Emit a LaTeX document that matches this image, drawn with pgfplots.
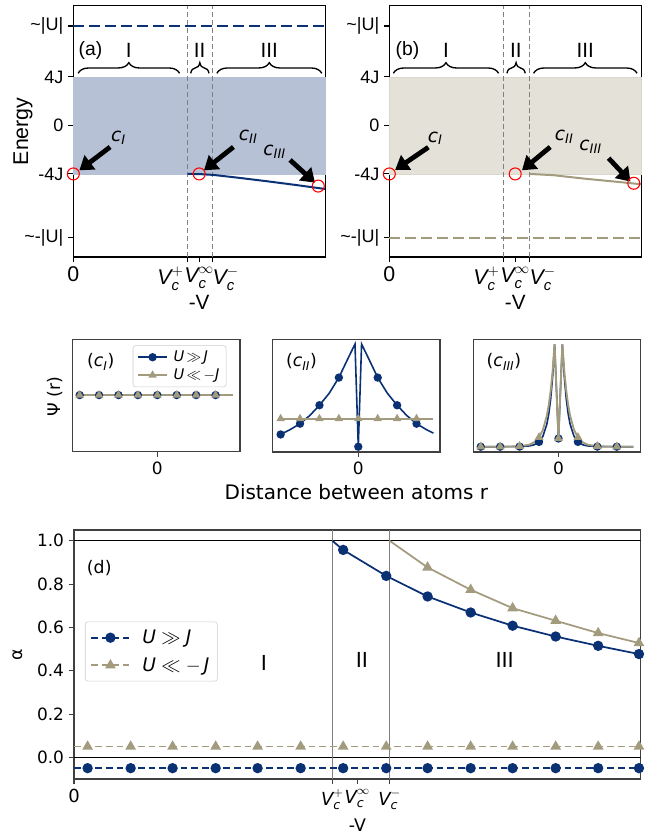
\documentclass[border=0pt]{standalone}
\usepackage{amsmath}
\usepackage{fontspec}
\setmainfont{DejaVu Sans}
\newfontfamily\arialf{Liberation Sans}
\usepackage{pgfplots}
\pgfplotsset{compat=1.18}
\usetikzlibrary{arrows.meta,decorations.pathreplacing}
\definecolor{navy}{HTML}{0B3175}
\definecolor{khaki}{HTML}{A39B7E}
\definecolor{fillA}{HTML}{B6C1D6}
\definecolor{fillB}{HTML}{E3E1D8}
\definecolor{vgray}{HTML}{808080}

\newcommand{\Vp}{$\textit{V}_{\textit{c}}^{+}$}
\newcommand{\Vi}{$\textit{V}_{\textit{c}}^{\infty}$}
\newcommand{\Vm}{$\textit{V}_{\textit{c}}^{-}$}
\newcommand{\cI}{\textit{c}\textsubscript{\textit{I}}}
\newcommand{\cII}{\textit{c}\textsubscript{\textit{II}}}
\newcommand{\cIII}{\textit{c}\textsubscript{\textit{III}}}

\tikzset{
  bigarrow/.style={line width=3.6pt, -{Triangle[length=10pt,width=13pt]}},
  clab/.style={font=\fontsize{14}{16}\selectfont},
  brlab/.style={font=\arialf\fontsize{15.5}{17}\selectfont},
  brace/.style={decorate, decoration={brace, amplitude=8pt}, line width=1pt},
}
\pgfplotsset{
  topax/.style={
    scale only axis, width=188.8pt, height=188.5pt,
    xmin=0, xmax=10, ymin=-10.85, ymax=9.88,
    axis line style={black,line width=0.8pt},
    tick align=outside, xtick pos=bottom, ytick pos=left,
    major tick length=4pt, every tick/.style={black,line width=0.8pt},
    yticklabels={\textasciitilde-|U|,-4J,0,4J,\textasciitilde|U|},
    ytick={-9.28,-4,0,4,8.2},
    yticklabel style={font=\arialf\fontsize{13.5}{15}\selectfont},
    xticklabel style={font=\arialf\fontsize{16}{18}\selectfont},
    xlabel={-V},
    xlabel style={font=\arialf\fontsize{15.5}{17}\selectfont, yshift=3pt},
    clip=false,
  },
  midax/.style={
    scale only axis, width=125.5pt, height=84.3pt,
    ymin=0, ymax=1, xtick={0}, xticklabels={0}, ytick=\empty,
    tick align=outside, xtick pos=bottom,
    major tick length=4pt,
    axis line style={black!75,line width=0.8pt},
    every tick/.style={black!75,line width=0.8pt},
    ticklabel style={font=\fontsize{12.7}{14}\selectfont},
  },
}

\begin{document}
\begin{tikzpicture}
\useasboundingbox (0,0) rectangle (492.75pt,628.5pt);

% ---------------- (a) ----------------
\begin{axis}[topax, at={(55.0pt,435.75pt)}, anchor=south west,
  xtick={0,4.54,5.0,5.53},
  xticklabels={0,\makebox[0pt][r]{\Vp\hspace{3pt}},\Vi,\makebox[0pt][l]{\Vm}},
  ylabel={Energy},
  ylabel style={font=\arialf\fontsize{16}{18}\selectfont, at={(axis description cs:-0.2,0.5)}, anchor=center}]
\addplot[fill=fillA, draw=navy!30, line width=0.6pt] coordinates {(0,-4)(10,-4)(10,4)(0,4)} --cycle;
\addplot[navy, line width=1.6pt, dash pattern=on 8pt off 4pt] coordinates {(0,8.2)(10,8.2)};
\addplot[vgray, line width=1.1pt, dash pattern=on 4pt off 2pt] coordinates {(4.54,-10.85)(4.54,9.88)};
\addplot[vgray, line width=1.1pt, dash pattern=on 4pt off 2pt] coordinates {(5.53,-10.85)(5.53,9.88)};
\addplot[navy, line width=1.5pt] coordinates {(4.54,-4)(5.0,-4.01)(5.56,-4.08)(6.5,-4.3)(7.68,-4.6)(8.8,-4.9)(10,-5.24)};
\addplot[only marks, mark=o, mark size=4.5pt, red, mark options={line width=0.8pt}] coordinates {(0,-4)(5.0,-4)(9.73,-5.0)};
\draw[bigarrow] (axis cs:1.46,-1.78) -- (axis cs:0.24,-3.7);
\draw[bigarrow] (axis cs:6.36,-1.78) -- (axis cs:5.19,-3.7);
\draw[bigarrow] (axis cs:8.61,-2.85) -- (axis cs:9.6,-4.72);
\node[clab] at (axis cs:1.79,-1.05) {\cI};
\node[clab] at (axis cs:6.95,-0.92) {\cII};
\node[clab] at (axis cs:8.0,-2.16) {\cIII};
\draw[brace] (axis cs:0.19,4.3) -- (axis cs:4.22,4.3);
\draw[brace] (axis cs:4.66,4.3) -- (axis cs:5.39,4.3);
\draw[brace] (axis cs:5.7,4.3) -- (axis cs:9.87,4.3);
\node[brlab] at (axis cs:2.2,6.2) {I};
\node[brlab] at (axis cs:5.02,6.2) {II};
\node[brlab] at (axis cs:7.78,6.2) {III};
\node[font=\arialf\fontsize{14.5}{16}\selectfont] at (axis cs:0.68,6.2) {(a)};
\end{axis}

% ---------------- (b) ----------------
\begin{axis}[topax, at={(292.0pt,435.75pt)}, anchor=south west,
  xtick={0,4.54,5.0,5.57},
  xticklabels={0,\makebox[0pt][r]{\Vp\hspace{3pt}},\Vi,\makebox[0pt][l]{\Vm}}]
\addplot[fill=fillB, draw=khaki!40, line width=0.6pt] coordinates {(0,-4)(10,-4)(10,4)(0,4)} --cycle;
\addplot[khaki, line width=1.6pt, dash pattern=on 8pt off 4pt] coordinates {(0,-9.28)(10,-9.28)};
\addplot[vgray, line width=1.1pt, dash pattern=on 4pt off 2pt] coordinates {(4.54,-10.85)(4.54,9.88)};
\addplot[vgray, line width=1.1pt, dash pattern=on 4pt off 2pt] coordinates {(5.57,-10.85)(5.57,9.88)};
\addplot[khaki, line width=1.5pt] coordinates {(5.57,-4)(6.5,-4.1)(7.85,-4.41)(9,-4.64)(10,-4.85)};
\addplot[only marks, mark=o, mark size=4.5pt, red, mark options={line width=0.8pt}] coordinates {(0,-4)(5.0,-4)(9.71,-4.77)};
\draw[bigarrow] (axis cs:1.55,-1.8) -- (axis cs:0.23,-3.67);
\draw[bigarrow] (axis cs:6.39,-1.78) -- (axis cs:5.27,-3.7);
\draw[bigarrow] (axis cs:8.71,-2.7) -- (axis cs:9.58,-4.63);
\node[clab] at (axis cs:1.82,-1.06) {\cI};
\node[clab] at (axis cs:6.95,-0.92) {\cII};
\node[clab] at (axis cs:8.0,-1.75) {\cIII};
\draw[brace] (axis cs:0.16,4.3) -- (axis cs:4.34,4.3);
\draw[brace] (axis cs:4.67,4.3) -- (axis cs:5.4,4.3);
\draw[brace] (axis cs:5.73,4.3) -- (axis cs:9.84,4.3);
\node[brlab] at (axis cs:2.25,6.2) {I};
\node[brlab] at (axis cs:5.03,6.2) {II};
\node[brlab] at (axis cs:7.78,6.2) {III};
\node[font=\arialf\fontsize{14.5}{16}\selectfont] at (axis cs:0.72,6.2) {(b)};
\end{axis}

% ---------------- (c_I) ----------------
\begin{axis}[midax, at={(54.5pt,289.7pt)}, anchor=south west, xmin=-4.36, xmax=4.26,
  ylabel={Ψ (r)},
  ylabel style={font=\fontsize{13}{15}\selectfont, at={(axis description cs:-0.106,0.49)}, anchor=center},
  legend style={at={(0.359,0.947)}, anchor=north west, draw=black!20, rounded corners=2pt,
    font=\fontsize{11}{12}\selectfont, inner xsep=3pt, inner ysep=2pt, row sep=0pt, cells={anchor=west}},
  legend image code/.code={\draw[mark repeat=2,mark phase=2,#1] plot coordinates {(0cm,0cm)(0.39cm,0cm)(0.78cm,0cm)};}]
\addplot[navy, line width=1.2pt, mark=*, mark size=2.5pt, mark indices={1,2,3,4,5,6,7,8}, forget plot]
  coordinates {(-4,0.504)(-3,0.504)(-2,0.504)(-1,0.504)(0,0.504)(1,0.504)(2,0.504)(3,0.504)(3.9,0.504)};
\addplot[khaki, line width=1.2pt, mark=triangle*, mark size=2.5pt, mark indices={1,2,3,4,5,6,7,8}, forget plot]
  coordinates {(-4,0.504)(-3,0.504)(-2,0.504)(-1,0.504)(0,0.504)(1,0.504)(2,0.504)(3,0.504)(3.9,0.504)};
\addlegendimage{navy, line width=1.2pt, mark=*, mark size=2.5pt}
\addlegendentry{\hspace*{2pt}$\textit{U}\,{\gg}\,\textit{J}$}
\addlegendimage{khaki, line width=1.2pt, mark=triangle*, mark size=2.5pt}
\addlegendentry{\hspace*{2pt}$\textit{U}\,{\ll}\,{-}\textit{J}$}
\node[font=\fontsize{13}{15}\selectfont] at (axis description cs:0.168,0.80) {(\cI)};
\end{axis}

% ---------------- (c_II) ----------------
\begin{axis}[midax, at={(204.5pt,289.5pt)}, anchor=south west, xmin=-4.41, xmax=4.21,
  xlabel={Distance between atoms r},
  xlabel style={font=\fontsize{15}{17}\selectfont}]
\addplot[navy, line width=1.2pt, mark=*, mark size=2.5pt, mark indices={1,3,5,7,10,13,15,17}]
  coordinates {(-4,0.156)(-3.5,0.20)(-3,0.252)(-2.5,0.324)(-2,0.416)(-1.5,0.522)(-1,0.662)(-0.5,0.843)(-0.17,0.96)(0,0.047)(0.17,0.96)(0.5,0.843)(1,0.662)(1.5,0.522)(2,0.416)(2.5,0.324)(3,0.252)(3.5,0.20)(3.87,0.168)};
\addplot[khaki, line width=1.2pt, mark=triangle*, mark size=2.5pt, mark indices={1,2,3,4,5,6,7,8}]
  coordinates {(-4,0.296)(-3,0.296)(-2,0.296)(-1,0.296)(0,0.296)(1,0.296)(2,0.296)(3,0.296)(3.87,0.296)};
\node[font=\fontsize{13}{15}\selectfont] at (axis description cs:0.172,0.80) {(\cII)};
\end{axis}

% ---------------- (c_III) ----------------
\begin{axis}[midax, at={(355.0pt,289.5pt)}, anchor=south west, xmin=-4.38, xmax=4.23]
\addplot[navy, line width=1.2pt, mark=*, mark size=2.5pt, mark indices={1,2,3,6,13,20,23,24}]
  coordinates {(-4,0.047)(-3,0.047)(-2,0.048)(-1.5,0.054)(-1.25,0.064)(-1,0.090)(-0.8,0.140)(-0.6,0.246)(-0.5,0.338)(-0.4,0.473)(-0.3,0.669)(-0.2,0.96)(0,0.12)(0.2,0.96)(0.3,0.669)(0.4,0.473)(0.5,0.338)(0.6,0.246)(0.8,0.140)(1,0.090)(1.25,0.064)(1.5,0.054)(2,0.048)(3,0.047)(3.85,0.047)};
\addplot[khaki, line width=1.4pt, mark=triangle*, mark size=2.5pt, mark indices={1,2,3,6,13,20,23,24}]
  coordinates {(-4,0.047)(-3,0.047)(-2,0.051)(-1.5,0.065)(-1.25,0.086)(-1,0.130)(-0.8,0.197)(-0.6,0.321)(-0.5,0.417)(-0.4,0.547)(-0.3,0.721)(-0.2,0.96)(0,0.12)(0.2,0.96)(0.3,0.721)(0.4,0.547)(0.5,0.417)(0.6,0.321)(0.8,0.197)(1,0.130)(1.25,0.086)(1.5,0.065)(2,0.051)(3,0.047)(3.85,0.047)};
\node[font=\fontsize{13}{15}\selectfont] at (axis description cs:0.183,0.80) {(\cIII)};
\end{axis}

% ---------------- (d) ----------------
\begin{axis}[scale only axis, width=425pt, height=186.75pt, at={(55.5pt,44.25pt)}, anchor=south west,
  xmin=0, xmax=10, ymin=-0.1, ymax=1.05,
  axis line style={black!75,line width=0.8pt},
  tick align=outside, xtick pos=bottom, ytick pos=left,
  major tick length=4pt, every tick/.style={black!75,line width=0.8pt},
  xtick={0,4.56,5.0,5.57}, xticklabels={0,\Vp,\Vi,\Vm},
  ytick={0,0.2,0.4,0.6,0.8,1.0}, yticklabels={0.0,0.2,0.4,0.6,0.8,1.0},
  yticklabel style={font=\fontsize{12.7}{14}\selectfont},
  xticklabel style={font=\fontsize{13.5}{15}\selectfont},
  xlabel={-V}, ylabel={α},
  label style={font=\fontsize{13}{15}\selectfont},
  ylabel style={at={(axis description cs:-0.099,0.5)}, anchor=center},
  legend style={at={(0.0194,0.632)}, anchor=north west, draw=black!20, rounded corners=2pt,
    font=\fontsize{14}{16}\selectfont, inner xsep=4pt, inner ysep=4pt, row sep=5pt, cells={anchor=west}},
  legend image code/.code={\draw[mark repeat=2,mark phase=2,#1] plot coordinates {(0cm,0cm)(0.5cm,0cm)(1cm,0cm)};}]
\addplot[black, line width=0.8pt, forget plot] coordinates {(0,1)(10,1)};
\addplot[black, line width=0.8pt, forget plot] coordinates {(0,0)(10,0)};
\addplot[vgray, line width=1.2pt, forget plot] coordinates {(4.56,-0.1)(4.56,1.05)};
\addplot[vgray, line width=1.2pt, forget plot] coordinates {(5.57,-0.1)(5.57,1.05)};
\addplot[navy, line width=1.3pt, dash pattern=on 5pt off 3pt, mark=*, mark size=3.2pt, mark options={solid},
  mark indices={2,3,4,5,6,7,8,9,10,11,12,13,14,15}, forget plot]
  coordinates {(0,-0.05)(0.24,-0.05)(1.0,-0.05)(1.74,-0.05)(2.5,-0.05)(3.24,-0.05)(4.0,-0.05)(4.75,-0.05)(5.51,-0.05)(6.24,-0.05)(7.0,-0.05)(7.74,-0.05)(8.5,-0.05)(9.25,-0.05)(9.97,-0.05)(10,-0.05)};
\addplot[khaki, line width=1.3pt, dash pattern=on 5pt off 3pt, mark=triangle*, mark size=3.4pt, mark options={solid},
  mark indices={2,3,4,5,6,7,8,9,10,11,12,13,14,15}, forget plot]
  coordinates {(0,0.05)(0.24,0.05)(1.0,0.05)(1.74,0.05)(2.5,0.05)(3.24,0.05)(4.0,0.05)(4.75,0.05)(5.51,0.05)(6.24,0.05)(7.0,0.05)(7.74,0.05)(8.5,0.05)(9.25,0.05)(9.97,0.05)(10,0.05)};
\addplot[navy, line width=1.3pt, mark=*, mark size=3.2pt, mark indices={2,3,4,5,6,7,8,9}, forget plot]
  coordinates {(4.56,1.0)(4.75,0.958)(5.51,0.838)(6.24,0.743)(7.0,0.669)(7.74,0.608)(8.5,0.558)(9.25,0.515)(9.97,0.477)};
\addplot[khaki, line width=1.3pt, mark=triangle*, mark size=3.4pt, mark indices={2,3,4,5,6,7}, forget plot]
  coordinates {(5.57,1.0)(6.24,0.877)(7.0,0.774)(7.74,0.689)(8.5,0.631)(9.25,0.574)(9.97,0.528)};
\addlegendimage{navy, line width=1.3pt, dash pattern=on 5pt off 3pt, mark=*, mark size=3.2pt, mark options={solid}}
\addlegendentry{\hspace*{7pt}$\textit{U} \;{\gg}\; \textit{J}$}
\addlegendimage{khaki, line width=1.3pt, dash pattern=on 5pt off 3pt, mark=triangle*, mark size=3.4pt, mark options={solid}}
\addlegendentry{\hspace*{7pt}$\textit{U} \;{\ll}\; {-}\,\textit{J}$}
\node[font=\fontsize{15.5}{17}\selectfont] at (axis cs:3.35,0.437) {I};
\node[font=\fontsize{15.5}{17}\selectfont] at (axis cs:5.08,0.45) {II};
\node[font=\fontsize{15.5}{17}\selectfont] at (axis cs:7.6,0.45) {III};
\node[anchor=west, font=\fontsize{13}{15}\selectfont] at (axis description cs:0.0146,0.847) {(d)};
\end{axis}
\end{tikzpicture}
\end{document}
